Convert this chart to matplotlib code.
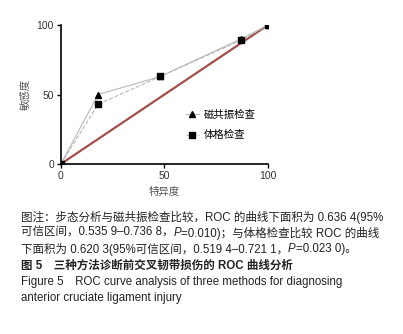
import matplotlib
matplotlib.use('Agg')
import matplotlib.pyplot as plt

plt.rcParams['font.family'] = ['Liberation Sans', 'Noto Sans CJK SC']

# ROC points (specificity axis as drawn, sensitivity)
mri_x = [0, 18, 48, 87, 100]
mri_y = [0, 50, 63, 90, 100]
pe_x = [0, 18, 48, 87, 100]
pe_y = [0, 43, 63, 89, 100]
ref_x = [0, 100]
ref_y = [0, 100]
ticks = [0, 50, 100]

# caption lines, split where the italic P sits
captions = [
    ["图注：步态分析与磁共振检查比较，ROC 的曲线下面积为 0.636 4(95%"],
    ["可信区间，0.535 9–0.736 8，", "P", "=0.010)；与体格检查比较 ROC 的曲线"],
    ["下面积为 0.620 3(95%可信区间，0.519 4–0.721 1，", "P", "=0.023 0)。"],
    ["图 5　三种方法诊断前交叉韧带损伤的 ROC 曲线分析"],
    ["Figure 5　ROC curve analysis of three methods for diagnosing"],
    ["anterior cruciate ligament injury"],
]

fig = plt.figure(figsize=(4.03, 3.34), dpi=100)
ax = fig.add_axes([0.151, 0.509, 0.514, 0.416])

ax.plot(ref_x, ref_y, color='#a2504b', lw=1.6, zorder=2)
ax.plot(mri_x, mri_y, color='#b8b8b8', lw=0.8, marker='^', ms=4,
        mfc='black', mec='black', label='磁共振检查', zorder=3)
ax.plot(pe_x, pe_y, color='#b8b8b8', lw=0.8, ls='--', marker='s', ms=4,
        mfc='black', mec='black', label='体格检查', zorder=3)

ax.set_xlim(0, 100)
ax.set_ylim(0, 100)
ax.set_xticks(ticks)
ax.set_yticks(ticks)
ax.spines['top'].set_visible(False)
ax.spines['right'].set_visible(False)
for s in ['left', 'bottom']:
    ax.spines[s].set_linewidth(1.2)
ax.tick_params(direction='out', length=3, width=1, labelsize=7.5, colors='black', labelcolor='#333333', pad=2)
ax.set_xlabel('特异度', fontsize=7.5, color='#555555', labelpad=4)
ax.set_ylabel('敏感度', fontsize=7.5, color='#555555', labelpad=4)
ax.legend(loc='center left', bbox_to_anchor=(0.56, 0.28), frameon=False, fontsize=7.5,
          handlelength=1.2, handletextpad=0.5, labelspacing=1.0)

renderer = fig.canvas.get_renderer()
ys = [217, 233, 249, 266, 282, 298]
for i, (parts, y) in enumerate(zip(captions, ys)):
    x = 21
    for j, p in enumerate(parts):
        italic = (p == 'P')
        t = fig.text(x / 403, 1 - y / 334, p, fontsize=8.3, va='center', ha='left',
                     color='#222222', style='italic' if italic else 'normal',
                     fontweight='bold' if i == 3 else 'normal')
        x += t.get_window_extent(renderer).width

fig.savefig('out.png', dpi=100)
